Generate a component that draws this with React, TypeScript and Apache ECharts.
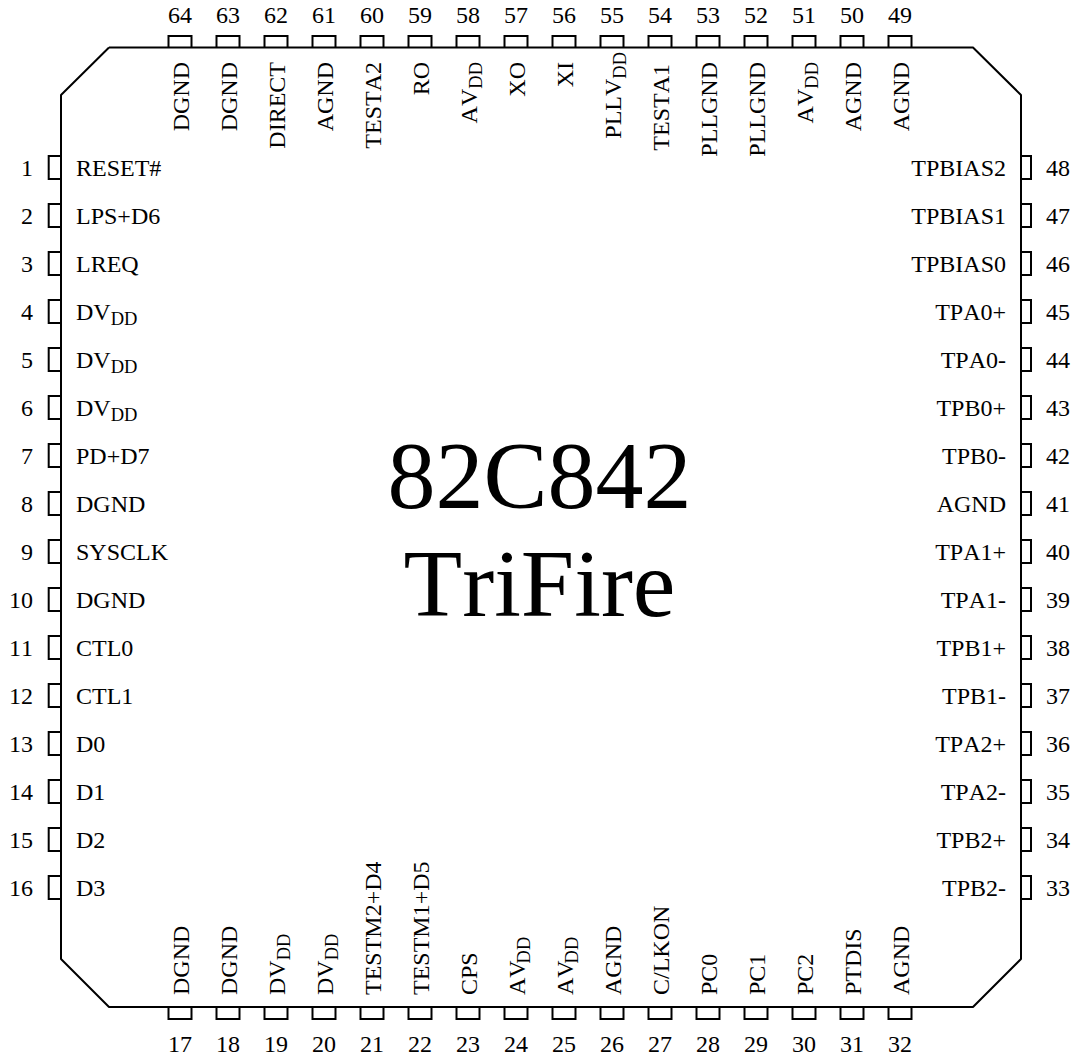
import React, { useEffect, useRef } from "react";
import * as echarts from "echarts";

const leftPins = ["RESET#", "LPS+D6", "LREQ", "DV_DD", "DV_DD", "DV_DD", "PD+D7", "DGND", "SYSCLK", "DGND", "CTL0", "CTL1", "D0", "D1", "D2", "D3"];
const bottomPins = ["DGND", "DGND", "DV_DD", "DV_DD", "TESTM2+D4", "TESTM1+D5", "CPS", "AV_DD", "AV_DD", "AGND", "C/LKON", "PC0", "PC1", "PC2", "PTDIS", "AGND"];
const rightPins = ["TPB2-", "TPB2+", "TPA2-", "TPA2+", "TPB1-", "TPB1+", "TPA1-", "TPA1+", "AGND", "TPB0-", "TPB0+", "TPA0-", "TPA0+", "TPBIAS0", "TPBIAS1", "TPBIAS2"];
const topPins = ["AGND", "AGND", "AV_DD", "PLLGND", "PLLGND", "TESTA1", "PLLV_DD", "XI", "XO", "AV_DD", "RO", "TESTA2", "AGND", "DIRECT", "DGND", "DGND"];
const centerTitle = ["82C842", "TriFire"];
const titleY = [475, 583];
const outline = [[109, 47.5], [973, 47.5], [1021, 95], [1021, 959], [973, 1007], [109, 1007], [61, 959], [61, 95], [109, 47.5]];
const topLabelEnd: Record<number, number> = { 55: 52, 54: 64 };

const FONT = '"Liberation Serif", "Times New Roman", serif';
const START = 167.5;
const STEP = 48;

const rich = {
  b: { fontFamily: FONT, fontSize: 24, lineHeight: 24, verticalAlign: "top" as const, color: "#000" },
  s: { fontFamily: FONT, fontSize: 18.5, lineHeight: 28.75, verticalAlign: "bottom" as const, color: "#000" },
};
const richLabel = (s: string) => {
  const [a, b] = s.split("_");
  return b ? `{b|${a}}{s|${b}}` : `{b|${a}}`;
};

type Pin = { no: number; name: string; side: "L" | "B" | "R" | "T"; pos: number };
const pins: Pin[] = [
  ...leftPins.map((name, i) => ({ no: i + 1, name, side: "L" as const, pos: START + i * STEP })),
  ...bottomPins.map((name, i) => ({ no: i + 17, name, side: "B" as const, pos: 180 + i * STEP })),
  ...rightPins.map((name, i) => ({ no: i + 33, name, side: "R" as const, pos: START + (15 - i) * STEP })),
  ...topPins.map((name, i) => ({ no: i + 49, name, side: "T" as const, pos: 900 - i * STEP })),
];

export default function App() {
  const ref = useRef<HTMLDivElement>(null);
  useEffect(() => {
    document.body.style.margin = "0";
    const chart = echarts.init(ref.current!, undefined, { renderer: "svg" });
    const numStyle = (text: string, align: string, verticalAlign = "middle") => ({
      text, fontFamily: FONT, fontSize: 24, fill: "#000", align, verticalAlign,
    });
    chart.setOption({
      animation: false,
      backgroundColor: "#fff",
      grid: { left: 0, right: 0, top: 0, bottom: 0 },
      xAxis: { type: "value", min: 0, max: 1072, show: false },
      yAxis: { type: "value", min: 0, max: 1059, inverse: true, show: false },
      series: [
        {
          type: "line",
          data: outline,
          symbol: "none",
          silent: true,
          lineStyle: { color: "#000", width: 2 },
        },
        {
          type: "custom",
          coordinateSystem: "cartesian2d",
          silent: true,
          data: pins.map((p) => [p.pos, p.no]),
          renderItem: (params: any, api: any) => {
            const p = pins[params.dataIndex];
            const C = (x: number, y: number) => api.coord([x, y]);
            const lineStyle = { stroke: "#000", lineWidth: 2, fill: "none" };
            const children: any[] = [];
            const box = (pts: number[][]) =>
              children.push({ type: "polyline", shape: { points: pts.map(([x, y]) => C(x, y)) }, style: lineStyle });
            const label = (x: number, y: number, align: string, rotation: number) => {
              const [px, py] = C(x, y);
              children.push({
                type: "text", x: px, y: py, rotation,
                style: { text: richLabel(p.name), rich, align, verticalAlign: "top", fill: "#000", fontFamily: FONT, fontSize: 24 },
              });
            };
            const num = (x: number, y: number, align: string) => {
              const [px, py] = C(x, y);
              children.push({ type: "text", x: px, y: py, style: numStyle(String(p.no), align) });
            };
            const h = 11.5;
            if (p.side === "L") {
              box([[61, p.pos - h], [48.7, p.pos - h], [48.7, p.pos + h], [61, p.pos + h]]);
              num(33, p.pos, "right");
              label(76, p.pos - 12, "left", 0);
            } else if (p.side === "R") {
              box([[1021, p.pos - h], [1031, p.pos - h], [1031, p.pos + h], [1021, p.pos + h]]);
              num(1046, p.pos, "left");
              label(1006, p.pos - 12, "right", 0);
            } else if (p.side === "T") {
              box([[p.pos - h, 47.5], [p.pos - h, 36], [p.pos + h, 36], [p.pos + h, 47.5]]);
              num(p.pos, 15, "center");
              label(p.pos - 11, topLabelEnd[p.no] ?? 62, "right", Math.PI / 2);
            } else {
              box([[p.pos - h, 1007], [p.pos - h, 1019], [p.pos + h, 1019], [p.pos + h, 1007]]);
              num(p.pos, 1044, "center");
              label(p.pos - 11, 995, "left", Math.PI / 2);
            }
            return { type: "group", children };
          },
        },
      ],
      graphic: centerTitle.map((t, i) => ({
        type: "text",
        x: 539.5,
        y: titleY[i],
        style: { text: t, fontFamily: FONT, fontSize: 96, fill: "#000", align: "center", verticalAlign: "middle" },
      })),
    });
    return () => chart.dispose();
  }, []);
  return <div ref={ref} style={{ width: 1072, height: 1059, fontKerning: "none" }} />;
}
